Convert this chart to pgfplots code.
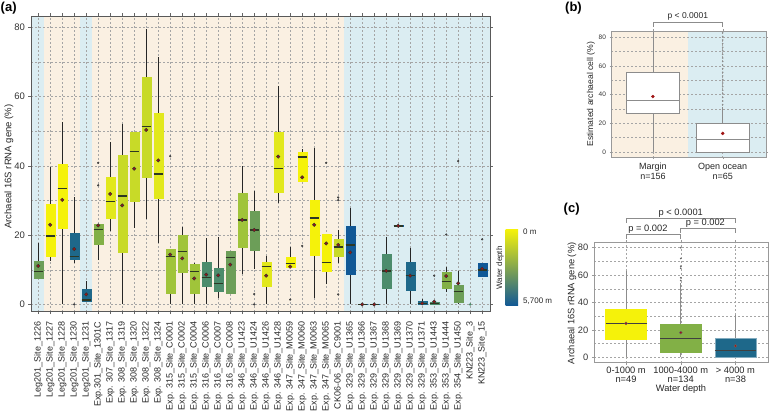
\documentclass[border=0pt]{standalone}
\usepackage{pgfplots}
\pgfplotsset{compat=1.18}
\usepgfplotslibrary{statistics}
\usepackage{fontspec}
\setmainfont{Liberation Sans}
\definecolor{bgbeige}{RGB}{250,240,226}
\definecolor{bgblue}{RGB}{219,237,242}
\definecolor{medc}{RGB}{45,55,35}
\definecolor{meanc}{RGB}{160,20,20}
\definecolor{cY}{RGB}{245,242,10}
\definecolor{cY2}{RGB}{226,232,28}
\definecolor{cYG}{RGB}{200,218,40}
\definecolor{cLG}{RGB}{160,196,58}
\definecolor{cG}{RGB}{130,176,70}
\definecolor{cGG}{RGB}{108,158,88}
\definecolor{cT}{RGB}{76,140,108}
\definecolor{cB}{RGB}{30,104,138}
\definecolor{cDB}{RGB}{16,88,150}
\definecolor{gridc}{RGB}{165,165,165}
\pgfplotsset{
  boxplot/draw direction=y,
  bxa/.style={draw=#1, fill=#1, mark=*, mark size=0.9pt,
    mark options={fill=black!75, draw=black!75},
    boxplot/draw direction=y,
    boxplot/box extend=0.75, boxplot/whisker extend=0,
    boxplot/every median/.style={draw=medc, line width=1.5pt},
    boxplot/every whisker/.style={draw=black!85, line width=0.9pt}},
  commonax/.style={scale only axis, set layers, anchor=south west,
    grid=both,
    major grid style={gridc, dash pattern=on 2pt off 2pt, line width=0.45pt},
    minor grid style={gridc, dash pattern=on 2pt off 2pt, line width=0.45pt},
    tick align=outside, major tick length=2.5pt, minor tick length=0pt,
    /pgf/number format/assume math mode=true},
}
\begin{document}
\begin{tikzpicture}
% ---------------- panel (a)
\begin{axis}[commonax,
  at={(31pt,103.3pt)}, width=459pt, height=295.7pt,
  xmin=-0.6, xmax=37.65, ymin=-2.1, ymax=83.3,
  xtick={0,...,37},
  xticklabels={Leg201\_Site\_1226,Leg201\_Site\_1227,Leg201\_Site\_1228,Leg201\_Site\_1230,Leg201\_Site\_1231,Exp.301\_Site\_1301C,Exp. 307\_Site\_1317,Exp. 308\_Site\_1319,Exp. 308\_Site\_1320,Exp. 308\_Site\_1322,Exp. 308\_Site\_1324,Exp. 315\_Site\_C0001,Exp. 315\_Site\_C0002,Exp. 315\_Site\_C0004,Exp. 316\_Site\_C0006,Exp. 316\_Site\_C0007,Exp. 316\_Site\_C0008,Exp. 346\_Site\_U1423,Exp. 346\_Site\_U1424,Exp. 346\_Site\_U1426,Exp. 346\_Site\_U1428,Exp. 347\_Site\_M0059,Exp. 347\_Site\_M0060,Exp. 347\_Site\_M0063,Exp. 347\_Site\_M0065,CK06-06\_Site\_C9001,Exp. 329\_Site\_U1365,Exp. 329\_Site\_U1366,Exp. 329\_Site\_U1367,Exp. 329\_Site\_U1368,Exp. 329\_Site\_U1369,Exp. 329\_Site\_U1370,Exp. 329\_Site\_U1371,Exp. 353\_Site\_U1443,Exp. 353\_Site\_U1444,Exp. 354\_Site\_U1450,KN223\_Site\_3,KN223\_Site\_15},
  xticklabel style={rotate=90, anchor=east, font=\fontsize{9}{9}\selectfont, black!85},
  xticklabel shift=4pt,
  ytick={0,20,40,60,80}, minor ytick={10,30,50,70},
  yticklabel style={font=\fontsize{9.5}{9.5}\selectfont, black!80},
  axis line style={black!65, line width=0.8pt},
  tick style={black!60, line width=0.5pt},
]
\begin{pgfonlayer}{axis background}
\fill[bgblue] (axis cs:-0.6,-2.1) rectangle (axis cs:0.5,83.3);
\fill[bgbeige] (axis cs:0.5,-2.1) rectangle (axis cs:3.5,83.3);
\fill[bgblue] (axis cs:3.5,-2.1) rectangle (axis cs:4.5,83.3);
\fill[bgbeige] (axis cs:4.5,-2.1) rectangle (axis cs:25.5,83.3);
\fill[bgblue] (axis cs:25.5,-2.1) rectangle (axis cs:37.65,83.3);
\end{pgfonlayer}
\addplot[bxa=cGG, boxplot prepared={draw position=0, lower whisker=7.7, lower quartile=7.7, median=9.5, upper quartile=12.5, upper whisker=17.6}] coordinates {};
\addplot[bxa=cY, boxplot prepared={draw position=1, lower whisker=12.6, lower quartile=13.8, median=19.8, upper quartile=29.0, upper whisker=39.8}] coordinates {};
\addplot[bxa=cY, boxplot prepared={draw position=2, lower whisker=0, lower quartile=22.0, median=33.5, upper quartile=40.6, upper whisker=52.8}] coordinates {};
\addplot[bxa=cB, boxplot prepared={draw position=3, lower whisker=12.0, lower quartile=13.0, median=13.9, upper quartile=20.5, upper whisker=30.9}] table[row sep=\\,y index=0] {d\\ 0\\};
\addplot[bxa=cB, boxplot prepared={draw position=4, lower whisker=1.0, lower quartile=1.0, median=1.25, upper quartile=4.4, upper whisker=6.8}] coordinates {};
\addplot[bxa=cG, boxplot prepared={draw position=5, lower whisker=12.8, lower quartile=17.4, median=21.6, upper quartile=23.2, upper whisker=23.2}] table[row sep=\\,y index=0] {d\\ 40.9\\ 34.4\\};
\addplot[bxa=cY2, boxplot prepared={draw position=6, lower whisker=21.2, lower quartile=24.9, median=29.7, upper quartile=36.7, upper whisker=47.0}] coordinates {};
\addplot[bxa=cYG, boxplot prepared={draw position=7, lower whisker=0, lower quartile=15.2, median=31.3, upper quartile=43.2, upper whisker=52.2}] coordinates {};
\addplot[bxa=cYG, boxplot prepared={draw position=8, lower whisker=22.2, lower quartile=29.9, median=44.2, upper quartile=49.8, upper whisker=49.8}] coordinates {};
\addplot[bxa=cYG, boxplot prepared={draw position=9, lower whisker=24.7, lower quartile=36.6, median=51.4, upper quartile=65.5, upper whisker=79.4}] coordinates {};
\addplot[bxa=cY2, boxplot prepared={draw position=10, lower whisker=17.8, lower quartile=30.7, median=37.6, upper quartile=55.3, upper whisker=71.5}] coordinates {};
\addplot[bxa=cLG, boxplot prepared={draw position=11, lower whisker=0, lower quartile=3.1, median=13.8, upper quartile=16.0, upper whisker=16.0}] table[row sep=\\,y index=0] {d\\ 42.8\\};
\addplot[bxa=cLG, boxplot prepared={draw position=12, lower whisker=0, lower quartile=9.2, median=15.3, upper quartile=20.1, upper whisker=22.4}] coordinates {};
\addplot[bxa=cLG, boxplot prepared={draw position=13, lower whisker=0, lower quartile=3.2, median=9.5, upper quartile=11.6, upper whisker=11.9}] coordinates {};
\addplot[bxa=cT, boxplot prepared={draw position=14, lower whisker=0, lower quartile=5.3, median=7.8, upper quartile=12.3, upper whisker=19.1}] coordinates {};
\addplot[bxa=cT, boxplot prepared={draw position=15, lower whisker=1.9, lower quartile=3.8, median=6.1, upper quartile=10.6, upper whisker=19.4}] coordinates {};
\addplot[bxa=cGG, boxplot prepared={draw position=16, lower whisker=3.2, lower quartile=3.2, median=13.5, upper quartile=15.5, upper whisker=15.5}] coordinates {};
\addplot[bxa=cLG, boxplot prepared={draw position=17, lower whisker=8.7, lower quartile=16.5, median=24.4, upper quartile=32.1, upper whisker=40.0}] coordinates {};
\addplot[bxa=cGG, boxplot prepared={draw position=18, lower whisker=10.1, lower quartile=15.7, median=21.5, upper quartile=27.0, upper whisker=32.8}] table[row sep=\\,y index=0] {d\\ 0\\ 3\\};
\addplot[bxa=cY2, boxplot prepared={draw position=19, lower whisker=0, lower quartile=5.4, median=10.9, upper quartile=12.3, upper whisker=14.1}] coordinates {};
\addplot[bxa=cY2, boxplot prepared={draw position=20, lower whisker=29.4, lower quartile=32.3, median=39.2, upper quartile=49.7, upper whisker=63.2}] coordinates {};
\addplot[bxa=cY, boxplot prepared={draw position=21, lower whisker=10.7, lower quartile=10.7, median=11.8, upper quartile=13.6, upper whisker=16.5}] table[row sep=\\,y index=0] {d\\ 1.4\\};
\addplot[bxa=cY, boxplot prepared={draw position=22, lower whisker=35.5, lower quartile=35.5, median=42.6, upper quartile=44.1, upper whisker=44.8}] table[row sep=\\,y index=0] {d\\ 16.9\\};
\addplot[bxa=cY, boxplot prepared={draw position=23, lower whisker=1.9, lower quartile=14.3, median=24.9, upper quartile=30.1, upper whisker=45.3}] coordinates {};
\addplot[bxa=cY, boxplot prepared={draw position=24, lower whisker=5.8, lower quartile=9.5, median=12.1, upper quartile=20.3, upper whisker=20.3}] table[row sep=\\,y index=0] {d\\ 40.9\\};
\addplot[bxa=cYG, boxplot prepared={draw position=25, lower whisker=11.9, lower quartile=13.8, median=16.6, upper quartile=18.9, upper whisker=21.5}] table[row sep=\\,y index=0] {d\\ 30.9\\ 30.1\\ 2.9\\};
\addplot[bxa=cDB, boxplot prepared={draw position=26, lower whisker=0, lower quartile=8.7, median=17.2, upper quartile=22.5, upper whisker=27.8}] coordinates {};
\addplot[bxa=cDB, boxplot prepared={draw position=27, lower whisker=0, lower quartile=0, median=0, upper quartile=0.05, upper whisker=0.05}] coordinates {};
\addplot[bxa=cDB, boxplot prepared={draw position=28, lower whisker=0, lower quartile=0, median=0, upper quartile=0.05, upper whisker=0.05}] coordinates {};
\addplot[bxa=cT, boxplot prepared={draw position=29, lower whisker=0, lower quartile=4.8, median=9.7, upper quartile=14.6, upper whisker=19.6}] coordinates {};
\addplot[bxa=cDB, boxplot prepared={draw position=30, lower whisker=22.65, lower quartile=22.65, median=22.7, upper quartile=22.75, upper whisker=22.75}] coordinates {};
\addplot[bxa=cB, boxplot prepared={draw position=31, lower whisker=0, lower quartile=4.1, median=8.3, upper quartile=12.3, upper whisker=16.4}] coordinates {};
\addplot[bxa=cB, boxplot prepared={draw position=32, lower whisker=0, lower quartile=0, median=0.3, upper quartile=0.8, upper whisker=1.5}] coordinates {};
\addplot[bxa=cT, boxplot prepared={draw position=33, lower whisker=0, lower quartile=0, median=0.2, upper quartile=0.5, upper whisker=0.8}] table[row sep=\\,y index=0] {d\\ 8.3\\};
\addplot[bxa=cG, boxplot prepared={draw position=34, lower whisker=3.7, lower quartile=4.6, median=6.6, upper quartile=9.4, upper whisker=10.9}] table[row sep=\\,y index=0] {d\\ 20.2\\};
\addplot[bxa=cGG, boxplot prepared={draw position=35, lower whisker=0, lower quartile=0.5, median=3.7, upper quartile=5.6, upper whisker=9.7}] table[row sep=\\,y index=0] {d\\ 41.4\\};
\addplot[only marks, mark=*, mark size=1pt, mark options={fill=cT, draw=cT}] coordinates {(36,0)};
\addplot[bxa=cDB, boxplot prepared={draw position=37, lower whisker=8.2, lower quartile=8.2, median=10.0, upper quartile=11.8, upper whisker=11.8}] table[row sep=\\,y index=0] {d\\ 18.8\\};
% means
\addplot[only marks, mark=*, mark size=1.7pt, mark options={fill=meanc, draw=black!80, line width=0.5pt}] coordinates {
(0,11.1) (1,23.0) (2,30.2) (3,16.0) (4,2.9) (5,22.8) (6,31.9) (7,28.6) (8,39.2) (9,50.4)
(10,41.6) (11,14.4) (12,13.3) (13,7.5) (14,8.6) (15,8.4) (16,11.5) (17,24.4) (18,21.5) (19,8.3)
(20,42.7) (21,10.9) (22,36.7) (23,23.0) (24,17.6) (25,17.2) (26,15.0) (27,0) (28,0) (29,9.7)
(30,22.7) (31,8.3) (32,0.3) (33,0.8) (34,8.2) (35,6.1) (37,10.3)};
\end{axis}
\node[anchor=north west, font=\fontsize{13}{13}\selectfont\bfseries, inner sep=0pt] at (0.5pt,413.5pt) {(a)};
\node[rotate=90, font=\fontsize{9.5}{9.5}\selectfont, black!85] at (9pt,248.3pt) {Archaeal 16S rRNA gene (\%)};
% colour bar
\shade[top color=cY, middle color=cGG, bottom color=cDB] (505.5pt,109pt) rectangle (518pt,185.5pt);
\node[anchor=west, font=\fontsize{8}{8}\selectfont, black!85, inner sep=0pt] at (523pt,183pt) {0 m};
\node[anchor=west, font=\fontsize{8}{8}\selectfont, black!85, inner sep=0pt] at (523pt,113.5pt) {5,700 m};
\node[rotate=90, font=\fontsize{8}{8}\selectfont, black!85] at (500pt,147pt) {Water depth};
% ---------------- panel (b)
\begin{axis}[commonax,
  at={(611pt,257.3pt)}, width=155.7pt, height=126.7pt,
  xmin=0.4, xmax=2.63, ymin=-4, ymax=84.3, clip=false,
  xtick={1,2}, xticklabels={{Margin\\n=156},{Open ocean\\n=65}},
  xticklabel style={align=center, font=\fontsize{9}{10.5}\selectfont, black!85},
  ytick={0,20,40,60,80}, minor ytick={10,30,50,70},
  yticklabel style={font=\fontsize{6.5}{6.5}\selectfont, black!80},
  axis line style={black!40, line width=0.6pt},
  tick style={black!40, line width=0.4pt}, major tick length=1.5pt,
]
\begin{pgfonlayer}{axis background}
\fill[bgbeige] (axis cs:0.4,-4) rectangle (axis cs:1.5,84.3);
\fill[bgblue] (axis cs:1.5,-4) rectangle (axis cs:2.63,84.3);
\end{pgfonlayer}
\addplot[draw=black!45, fill=white, line width=0.6pt, boxplot/draw direction=y, boxplot/box extend=0.75, boxplot/whisker extend=0,
  boxplot prepared={draw position=1, lower whisker=0, lower quartile=26.8, median=36.0, upper quartile=55.2, upper whisker=83.5}] coordinates {};
\addplot[draw=black!45, fill=white, line width=0.6pt, mark=*, mark size=0.45pt, mark options={fill=black!45, draw=black!45},
  boxplot/draw direction=y, boxplot/box extend=0.75, boxplot/whisker extend=0,
  boxplot prepared={draw position=2, lower whisker=0, lower quartile=0, median=8.8, upper quartile=20.1, upper whisker=31}]
  table[row sep=\\,y index=0] {d\\ 33\\ 35.5\\ 38\\ 40.5\\ 43\\ 45.5\\ 48\\ 50.5\\ 53\\ 55.5\\ 58\\ 60.5\\ 63\\ 65.5\\ 68\\ 70.5\\ 73\\ 75.5\\ 78\\ 80.5\\ 83\\};
\addplot[only marks, mark=*, mark size=1.5pt, mark options={fill=meanc, draw=meanc}] coordinates {(1,38.6) (2,12.9)};
\draw[black!45, line width=0.6pt] (axis cs:1,87.3) -- (axis cs:1,90.1) -- (axis cs:2,90.1) -- (axis cs:2,87.3);
\node[font=\fontsize{8.5}{8.5}\selectfont, black!85] at (axis cs:1.5,94.6) {p < 0.0001};
\end{axis}
\node[anchor=north west, font=\fontsize{13}{13}\selectfont\bfseries, inner sep=0pt] at (565pt,413pt) {(b)};
\node[rotate=90, font=\fontsize{8.6}{8.6}\selectfont, black!85] at (591pt,320.8pt) {Estimated archaeal cell (\%)};
% ---------------- panel (c)
\begin{axis}[commonax,
  at={(594.3pt,52.3pt)}, width=174pt, height=120pt,
  xmin=0.42, xmax=3.6, ymin=-3.9, ymax=83.6, clip=false,
  xtick={1,2,3}, xticklabels={{0-1000 m\\n=49},{1000-4000 m\\n=134},{> 4000 m\\n=38}},
  xticklabel style={align=center, font=\fontsize{9.3}{9}\selectfont, black!85, inner sep=1.5pt},
  ytick={0,20,40,60,80}, minor ytick={10,30,50,70},
  yticklabel style={font=\fontsize{9.3}{9.3}\selectfont, black!80},
  axis line style={black!40, line width=0.6pt},
  tick style={black!40, line width=0.4pt},
]
\addplot[draw=cY, fill=cY, boxplot/draw direction=y, boxplot/box extend=0.75, boxplot/whisker extend=0,
  boxplot/every median/.style={draw=black!75, line width=0.9pt},
  boxplot/every whisker/.style={draw=black!45, line width=0.7pt},
  boxplot prepared={draw position=1, lower whisker=0, lower quartile=13.4, median=24.8, upper quartile=35.3, upper whisker=63}] coordinates {};
\addplot[draw=cG, fill=cG, mark=*, mark size=0.6pt, mark options={fill=black!60, draw=black!60},
  boxplot/draw direction=y, boxplot/box extend=0.75, boxplot/whisker extend=0,
  boxplot/every median/.style={draw=black!75, line width=0.9pt},
  boxplot/every whisker/.style={draw=black!45, line width=0.7pt},
  boxplot prepared={draw position=2, lower whisker=0, lower quartile=4.1, median=14.1, upper quartile=24.1, upper whisker=54}]
  table[row sep=\\,y index=0] {d\\ 56\\ 58\\ 65\\ 66.5\\ 72\\ 80\\};
\addplot[draw=cB!55!white, fill=cB, boxplot/draw direction=y, boxplot/box extend=0.75, boxplot/whisker extend=0,
  boxplot/every median/.style={draw=black!75, line width=0.9pt},
  boxplot/every whisker/.style={draw=black!45, line width=0.7pt},
  boxplot prepared={draw position=3, lower whisker=0, lower quartile=0, median=5.1, upper quartile=13.9, upper whisker=30.9}] coordinates {};
\addplot[only marks, mark=*, mark size=1.5pt, mark options={fill=meanc, draw=black!60, line width=0.4pt}] coordinates {(1,24.8) (2,18.0) (3,8.3)};
\draw[black!45, line width=0.6pt] (axis cs:1,98.2) -- (axis cs:1,101.5) -- (axis cs:3,101.5) -- (axis cs:3,98.2);
\node[font=\fontsize{9.3}{9.3}\selectfont, black!85] at (axis cs:2,104.8) {p < 0.0001};
\draw[black!45, line width=0.6pt] (axis cs:1,86.4) -- (axis cs:1,89.8) -- (axis cs:2,89.8) -- (axis cs:2,86.4);
\node[font=\fontsize{9.3}{9.3}\selectfont, black!85] at (axis cs:1.4,93.3) {p = 0.002};
\draw[black!45, line width=0.6pt] (axis cs:2,91) -- (axis cs:2,94.2) -- (axis cs:3,94.2) -- (axis cs:3,91);
\node[font=\fontsize{9.3}{9.3}\selectfont, black!85] at (axis cs:2.45,97.8) {p = 0.002};
\end{axis}
\node[font=\fontsize{9.3}{9.3}\selectfont, black!85] at (681pt,26.2pt) {Water depth};
\node[anchor=north west, font=\fontsize{13}{13}\selectfont\bfseries, inner sep=0pt] at (563.5pt,212pt) {(c)};
\node[rotate=90, font=\fontsize{9.3}{9.3}\selectfont, black!85] at (572pt,111.7pt) {Archaeal 16S rRNA gene (\%)};
\pgfresetboundingbox
\path[use as bounding box] (0,0) rectangle (769pt,415pt);
\end{tikzpicture}
\end{document}
